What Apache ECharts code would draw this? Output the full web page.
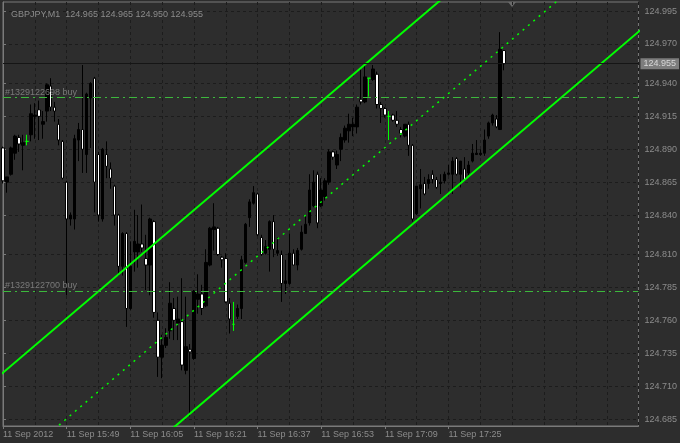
<!DOCTYPE html>
<html>
<head>
<meta charset="utf-8">
<title>GBPJPY,M1</title>
<script src="https://cdn.jsdelivr.net/npm/echarts@6/dist/echarts.min.js"></script>
<style>
  html, body { margin: 0; padding: 0; background: #2d2d2d; }
  #chart { width: 680px; height: 443px; }
</style>
</head>
<body>
<div id="chart"></div>
<script>
// M1 bars, 11 Sep 2012 from 15:33 (bar 0) to 17:39 (bar 126)
const opens = [
  124.891, 124.865, 124.871, 124.887, 124.899, 124.893, 124.896, 124.901, 124.915, 124.920,
  124.909, 124.919, 124.938, 124.922, 124.909, 124.896, 124.865, 124.837, 124.837, 124.897,
  124.905, 124.886, 124.929, 124.944, 124.886, 124.837, 124.886, 124.875, 124.862, 124.840,
  124.801, 124.826, 124.769, 124.812, 124.812, 124.818, 124.807, 124.802, 124.835, 124.760,
  124.732, 124.741, 124.752, 124.769, 124.758, 124.759, 124.722, 124.738, 124.731, 124.776,
  124.780, 124.771, 124.802, 124.829, 124.830, 124.808, 124.807, 124.773, 124.757, 124.763,
  124.769, 124.804, 124.838, 124.849, 124.856, 124.823, 124.811, 124.814, 124.835, 124.811,
  124.810, 124.788, 124.788, 124.811, 124.802, 124.814, 124.826, 124.834, 124.847, 124.871,
  124.847, 124.854, 124.865, 124.888, 124.878, 124.890, 124.897, 124.904, 124.907, 124.907,
  124.928, 124.926, 124.944, 124.943, 124.947, 124.924, 124.921, 124.915, 124.916, 124.912,
  124.905, 124.900, 124.909, 124.893, 124.841, 124.860, 124.864, 124.864, 124.871, 124.867,
  124.864, 124.866, 124.871, 124.871, 124.883, 124.871, 124.875, 124.872, 124.881, 124.886,
  124.886, 124.887, 124.900, 124.910, 124.913, 124.905, 124.965
];
const closes = [
  124.866, 124.869, 124.891, 124.900, 124.894, 124.895, 124.896, 124.917, 124.916, 124.915,
  124.911, 124.939, 124.922, 124.919, 124.897, 124.868, 124.837, 124.840, 124.898, 124.905,
  124.890, 124.932, 124.940, 124.865, 124.840, 124.890, 124.877, 124.868, 124.840, 124.801,
  124.826, 124.769, 124.801, 124.820, 124.818, 124.815, 124.802, 124.837, 124.766, 124.732,
  124.741, 124.747, 124.773, 124.760, 124.761, 124.726, 124.740, 124.736, 124.782, 124.780,
  124.769, 124.804, 124.830, 124.831, 124.810, 124.806, 124.774, 124.761, 124.757, 124.769,
  124.806, 124.833, 124.850, 124.857, 124.825, 124.810, 124.816, 124.835, 124.814, 124.813,
  124.788, 124.790, 124.811, 124.802, 124.813, 124.827, 124.833, 124.859, 124.865, 124.834,
  124.859, 124.866, 124.888, 124.884, 124.886, 124.899, 124.906, 124.909, 124.909, 124.922,
  124.926, 124.945, 124.944, 124.951, 124.924, 124.921, 124.916, 124.915, 124.912, 124.909,
  124.902, 124.909, 124.893, 124.837, 124.862, 124.863, 124.856, 124.867, 124.867, 124.861,
  124.865, 124.871, 124.872, 124.881, 124.871, 124.881, 124.867, 124.878, 124.887, 124.887,
  124.887, 124.897, 124.910, 124.916, 124.907, 124.966, 124.955
];
const lows = [
  124.864, 124.857, 124.870, 124.882, 124.888, 124.874, 124.893, 124.896, 124.898, 124.897,
  124.898, 124.911, 124.919, 124.911, 124.893, 124.867, 124.779, 124.832, 124.829, 124.881,
  124.872, 124.872, 124.891, 124.842, 124.835, 124.835, 124.868, 124.860, 124.832, 124.794,
  124.794, 124.755, 124.768, 124.797, 124.800, 124.812, 124.783, 124.779, 124.762, 124.717,
  124.716, 124.739, 124.746, 124.745, 124.745, 124.722, 124.719, 124.687, 124.730, 124.765,
  124.764, 124.770, 124.801, 124.813, 124.809, 124.800, 124.773, 124.750, 124.752, 124.761,
  124.761, 124.803, 124.831, 124.848, 124.824, 124.809, 124.810, 124.797, 124.808, 124.809,
  124.774, 124.780, 124.787, 124.802, 124.798, 124.813, 124.826, 124.832, 124.846, 124.830,
  124.846, 124.851, 124.863, 124.882, 124.875, 124.881, 124.895, 124.895, 124.900, 124.902,
  124.924, 124.925, 124.930, 124.942, 124.921, 124.910, 124.914, 124.897, 124.911, 124.907,
  124.899, 124.899, 124.885, 124.835, 124.840, 124.845, 124.855, 124.860, 124.864, 124.860,
  124.856, 124.864, 124.870, 124.856, 124.870, 124.861, 124.866, 124.870, 124.880, 124.886,
  124.885, 124.885, 124.898, 124.908, 124.906, 124.905, 124.950
];
const highs = [
  124.892, 124.869, 124.892, 124.901, 124.901, 124.901, 124.901, 124.924, 124.925, 124.927,
  124.919, 124.940, 124.944, 124.926, 124.913, 124.897, 124.866, 124.842, 124.901, 124.910,
  124.954, 124.933, 124.941, 124.945, 124.888, 124.891, 124.896, 124.880, 124.863, 124.841,
  124.827, 124.827, 124.820, 124.844, 124.840, 124.848, 124.825, 124.838, 124.836, 124.766,
  124.749, 124.754, 124.789, 124.777, 124.778, 124.792, 124.778, 124.742, 124.783, 124.795,
  124.787, 124.814, 124.831, 124.849, 124.831, 124.809, 124.811, 124.777, 124.774, 124.772,
  124.809, 124.834, 124.852, 124.862, 124.857, 124.825, 124.821, 124.836, 124.840, 124.823,
  124.813, 124.806, 124.826, 124.814, 124.815, 124.832, 124.840, 124.871, 124.874, 124.873,
  124.868, 124.868, 124.890, 124.889, 124.889, 124.902, 124.908, 124.917, 124.914, 124.924,
  124.952, 124.954, 124.944, 124.954, 124.949, 124.926, 124.922, 124.919, 124.917, 124.919,
  124.907, 124.909, 124.911, 124.894, 124.862, 124.875, 124.869, 124.871, 124.874, 124.869,
  124.871, 124.873, 124.878, 124.884, 124.884, 124.881, 124.884, 124.881, 124.894, 124.897,
  124.890, 124.905, 124.911, 124.917, 124.916, 124.979, 124.965
];

// price scale and time scale
const priceTicks = [124.685, 124.710, 124.735, 124.760, 124.785, 124.810, 124.840,
  124.865, 124.890, 124.915, 124.940, 124.970, 124.995];
const timeTicks = [0, 16, 32, 48, 64, 80, 96, 112];
const timeLabels = ['11 Sep 2012', '11 Sep 15:49', '11 Sep 16:05', '11 Sep 16:21',
  '11 Sep 16:37', '11 Sep 16:53', '11 Sep 17:09', '11 Sep 17:25'];

// equidistant channel (bar index, price) end points
const channelBars = [-2, 165];
const channelUpper = [124.7151, 125.1449];
const channelMiddle = [124.6390, 125.0688];
const channelLower = [124.5630, 124.9928];

// open orders and last price
const orderPrices = [124.9293, 124.7819];
const orderLabels = ['#1329122698 buy', '#1329122700 buy'];
const lastPrice = 124.955;
const header = 'GBPJPY,M1  124.965 124.965 124.950 124.955';

const candles = opens.map((o, i) => [i, o, closes[i], lows[i], highs[i]]);
const font = 'Liberation Sans, Arial, sans-serif';
const textGray = '#8c8c8c';
const gridDark = '#1c1c1c';
const frame = '#7a7a7a';

function channelLine(prices) {
  return [[channelBars[0], prices[0]], [channelBars[1], prices[1]]];
}

const chart = echarts.init(document.getElementById('chart'));
chart.setOption({
  backgroundColor: '#2d2d2d',
  animation: false,
  title: {
    text: header,
    left: 6, top: 5,
    textStyle: { color: textGray, fontSize: 9, fontWeight: 'normal', fontFamily: font }
  },
  grid: {
    left: 3, right: 38, top: 2, bottom: 17,
    show: true, borderColor: frame, borderWidth: 1, backgroundColor: 'transparent'
  },
  xAxis: [
    {
      // grid lines every 8 bars
      type: 'value', min: 0, max: 159.75, interval: 8, position: 'bottom',
      axisLine: { show: false }, axisTick: { show: false }, axisLabel: { show: false },
      splitLine: { show: true, lineStyle: { color: gridDark, type: [3, 3] } }
    },
    {
      // labels every 16 bars
      type: 'value', min: 0, max: 159.75, position: 'bottom',
      axisLine: { show: true, lineStyle: { color: frame } },
      axisTick: { show: true, customValues: timeTicks, length: 3, lineStyle: { color: frame } },
      axisLabel: {
        customValues: timeTicks, align: 'left', margin: 4,
        color: textGray, fontSize: 9, fontFamily: font,
        formatter: (v) => timeLabels[timeTicks.indexOf(Math.round(v))] || ''
      },
      splitLine: { show: false }
    }
  ],
  yAxis: {
    type: 'value', position: 'right', min: 124.6797, max: 125.0019,
    axisLine: { show: true, lineStyle: { color: frame } },
    axisTick: { show: true, customValues: priceTicks, length: 3, lineStyle: { color: frame } },
    axisLabel: {
      customValues: priceTicks, margin: 6,
      color: textGray, fontSize: 9, fontFamily: font,
      formatter: (v) => v.toFixed(3)
    },
    splitLine: { show: true, lineStyle: { color: gridDark, type: [3, 3] } }
  },
  series: [
    {
      // order lines and last price line, under the bars
      type: 'line', xAxisIndex: 0, data: [], z: 1,
      markLine: {
        silent: true, symbol: 'none', animation: false, precision: 4,
        data: [
          ...orderPrices.map((p, i) => ({
            name: orderLabels[i], yAxis: p,
            lineStyle: { color: '#3cb83c', width: 1, type: [8, 4, 2, 4] },
            label: {
              position: 'insideStartTop', distance: [2, 1],
              color: '#7a7a7a', fontSize: 9, fontFamily: font,
              formatter: orderLabels[i]
            }
          })),
          {
            yAxis: lastPrice,
            lineStyle: { color: '#151515', width: 1, type: 'solid' },
            label: {
              position: 'end', distance: 2,
              backgroundColor: '#7d7d7d', color: '#d8d8d8', padding: [1, 3],
              fontSize: 9, fontFamily: font,
              formatter: lastPrice.toFixed(3)
            }
          }
        ]
      }
    },
    {
      type: 'candlestick', xAxisIndex: 0, data: candles, barWidth: 3, z: 3,
      itemStyle: {
        color: '#000000', color0: '#ffffff',
        borderColor: '#000000', borderColor0: '#000000',
        borderColorDoji: '#00ff00', borderWidth: 1
      }
    },
    {
      type: 'line', xAxisIndex: 0, data: channelLine(channelUpper), symbol: 'none', z: 4,
      lineStyle: { color: '#00ff00', width: 2 }
    },
    {
      type: 'line', xAxisIndex: 0, data: channelLine(channelMiddle), symbol: 'none', z: 4,
      lineStyle: { color: '#00ff00', width: 1.5, type: [2, 5] }
    },
    {
      type: 'line', xAxisIndex: 0, data: channelLine(channelLower), symbol: 'none', z: 4,
      lineStyle: { color: '#00ff00', width: 2 }
    }
  ],
  graphic: [
    {
      // chart shift marker
      type: 'polygon', silent: true,
      shape: { points: [[508, 2], [516, 2], [512, 7]] },
      style: { fill: '#6a6a6a' }
    }
  ]
});
</script>
</body>
</html>
